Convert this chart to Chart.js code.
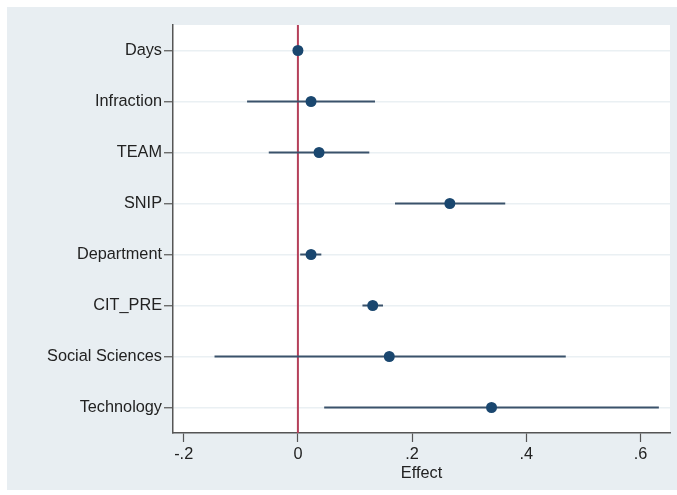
<!DOCTYPE html>
<html>
<head>
<meta charset="utf-8">
<script src="https://cdn.jsdelivr.net/npm/chart.js@4/dist/chart.umd.min.js"></script>
<style>
  html, body { margin: 0; padding: 0; background: #fff; }
  #wrap { width: 677px; height: 495px; }
</style>
</head>
<body>
<div id="wrap"><canvas id="chart"></canvas></div>
<script>
const variables = ['Days', 'Infraction', 'TEAM', 'SNIP', 'Department', 'CIT_PRE', 'Social Sciences', 'Technology'];
const effects = [0.000, 0.023, 0.037, 0.266, 0.023, 0.131, 0.160, 0.339];
const lowerCI = [-0.002, -0.089, -0.051, 0.170, 0.004, 0.113, -0.146, 0.046];
const upperCI = [0.002, 0.135, 0.125, 0.363, 0.041, 0.149, 0.469, 0.632];
const xTicks = [-0.2, 0, 0.2, 0.4, 0.6];

const navy = '#1a476f';
const ciColor = '#3a526b';

// one dataset per confidence interval line
const ciSets = variables.map((v, i) => ({
    type: 'line',
    data: [{ x: lowerCI[i], y: i + 1 }, { x: upperCI[i], y: i + 1 }],
    borderColor: ciColor,
    borderWidth: 2,
    pointRadius: 0,
    order: 2
}));

const bgPlugin = {
    id: 'bg',
    beforeDraw(chart) {
        const ctx = chart.ctx;
        const a = chart.chartArea;
        ctx.save();
        ctx.fillStyle = '#ffffff';
        ctx.fillRect(0, 0, chart.width, chart.height);
        ctx.fillStyle = '#e8eef2';
        ctx.fillRect(7, 7, chart.width - 7, 483);
        ctx.fillStyle = '#ffffff';
        ctx.fillRect(a.left, a.top, a.right - a.left, a.bottom - a.top);
        ctx.restore();
    }
};

Chart.defaults.font.family = '"Liberation Sans", Arial, sans-serif';
Chart.defaults.color = '#222';

new Chart(document.getElementById('chart'), {
    type: 'scatter',
    data: {
        datasets: [
            {
                type: 'line',
                data: [{ x: 0, y: 0.5 }, { x: 0, y: 8.5 }],
                borderColor: '#b5405a',
                borderWidth: 2,
                pointRadius: 0,
                order: 3
            },
            ...ciSets,
            {
                type: 'scatter',
                data: effects.map((e, i) => ({ x: e, y: i + 1 })),
                backgroundColor: navy,
                borderColor: navy,
                borderWidth: 0,
                pointRadius: 5.5,
                order: 1
            }
        ]
    },
    options: {
        responsive: true,
        maintainAspectRatio: false,
        animation: false,
        layout: { padding: { top: 25, right: 7, left: 0, bottom: 0 } },
        plugins: { legend: { display: false }, tooltip: { enabled: false } },
        scales: {
            x: {
                type: 'linear',
                min: -0.2187,
                max: 0.6515,
                afterBuildTicks: s => { s.ticks = xTicks.map(v => ({ value: v })); },
                afterFit: s => { s.height = 62; },
                ticks: {
                    font: { size: 16.3 },
                    padding: 3,
                    color: '#222',
                    callback: v => v === 0 ? '0' : (v < 0 ? '-' : '') + String(Math.abs(v).toFixed(1)).replace(/^0/, '')
                },
                grid: { drawOnChartArea: false, tickLength: 9, tickColor: '#555', tickWidth: 1.2 },
                border: { color: '#555', width: 1.5 },
                title: { display: true, text: 'Effect', font: { size: 16.3 }, color: '#222', padding: { top: 0, bottom: 12 } }
            },
            y: {
                type: 'linear',
                reverse: true,
                min: 0.5,
                max: 8.5,
                afterBuildTicks: s => { s.ticks = variables.map((v, i) => ({ value: i + 1 })); },
                afterFit: s => { s.width = 173; },
                ticks: {
                    font: { size: 16.3 },
                    padding: 2,
                    color: '#222',
                    callback: v => variables[Math.round(v) - 1]
                },
                grid: { color: '#eaf0f3', lineWidth: 1.5, tickLength: 9, tickColor: '#555', tickWidth: 1.2 },
                border: { color: '#555', width: 1.5 }
            }
        }
    },
    plugins: [bgPlugin]
});
</script>
</body>
</html>
